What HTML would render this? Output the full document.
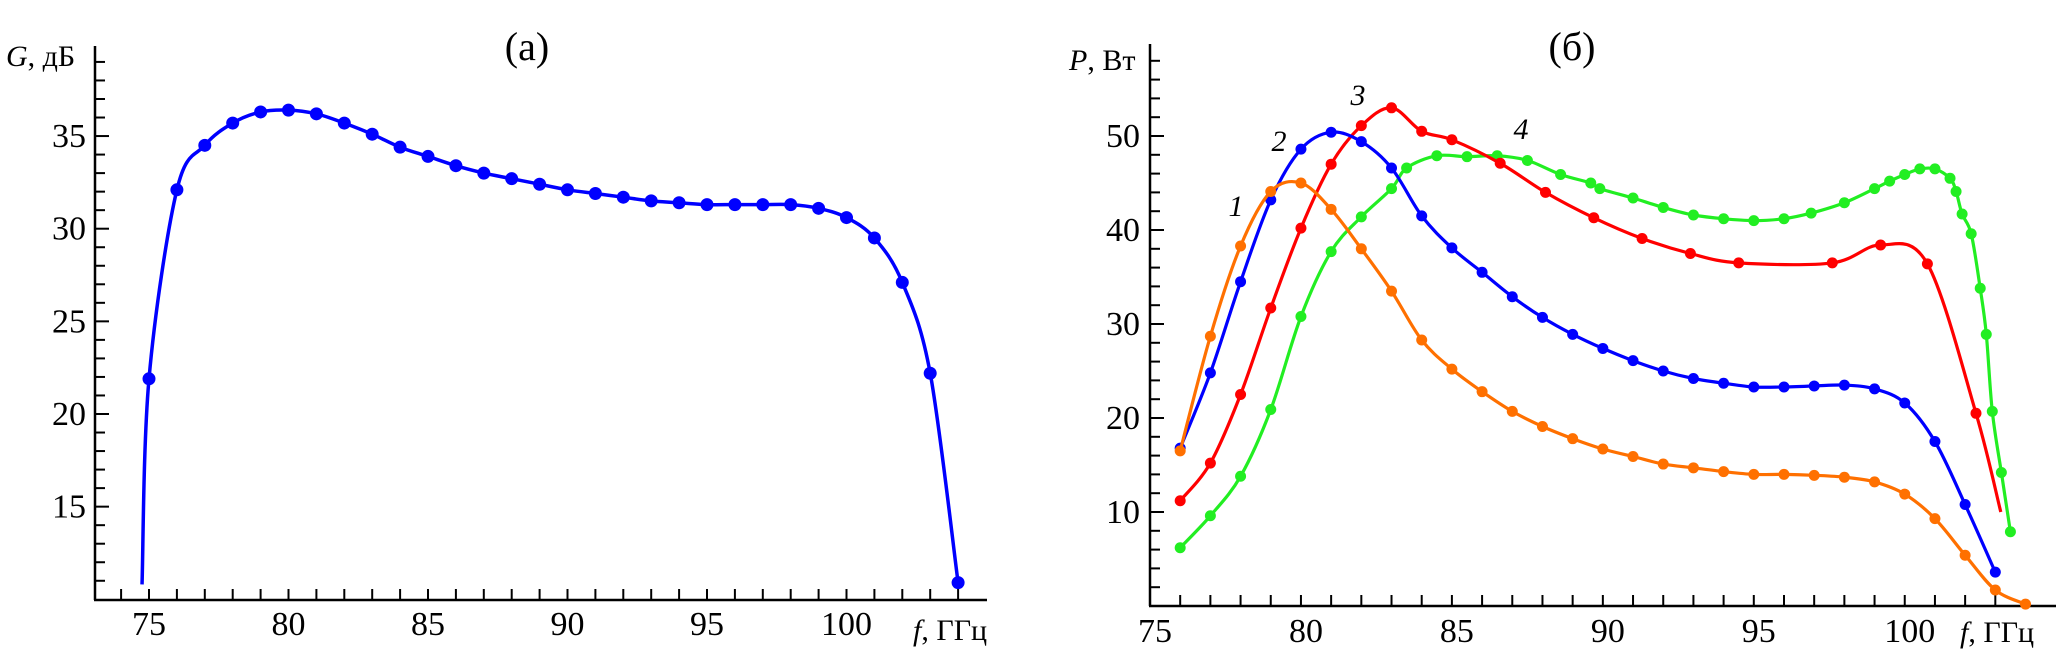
<!DOCTYPE html>
<html><head><meta charset="utf-8"><style>
html,body{margin:0;padding:0;background:#fff;}
svg{display:block;font-family:"Liberation Serif",serif;}
</style></head><body>
<svg id="c" width="2067" height="672" viewBox="0 0 2067 672"></svg>
<script>
// Panel (a) data
const gFreq=[75,76,77,78,79,80,81,82,83,84,85,86,87,88,89,90,91,92,93,94,95,96,97,98,99,100,101,102,103,104];
const gGain=[21.9,32.1,34.5,35.7,36.3,36.4,36.2,35.7,35.1,34.4,33.9,33.4,33.0,32.7,32.4,32.1,31.9,31.7,31.5,31.4,31.3,31.3,31.3,31.3,31.1,30.6,29.5,27.1,22.2,10.9];
const gStart=[74.75,10.8];
const gXTicks=[75,80,85,90,95,100];
const gYTicks=[15,20,25,30,35];
// Panel (b) data
const s1f=[76,77,78,79,80,81,82,83,84,85,86,87,88,89,90,91,92,93,94,95,96,97,98,99,100,101,102,103,104];
const s1p=[16.5,28.7,38.3,44.1,45.0,42.2,38.0,33.5,28.3,25.2,22.8,20.7,19.1,17.8,16.7,15.9,15.1,14.7,14.3,14.0,14.0,13.9,13.7,13.2,11.9,9.3,5.4,1.7,0.2];
const s2f=[76,77,78,79,80,81,82,83,84,85,86,87,88,89,90,91,92,93,94,95,96,97,98,99,100,101,102,103];
const s2p=[16.8,24.8,34.5,43.2,48.6,50.4,49.4,46.6,41.5,38.1,35.5,32.9,30.7,28.9,27.4,26.1,25.0,24.2,23.7,23.3,23.3,23.4,23.5,23.1,21.6,17.5,10.8,3.6];
const s3f=[76,77,78,79,80,81,82,83,84,85,86.6,88.1,89.7,91.3,92.9,94.5,97.6,99.2,100.75,102.36];
const s3p=[11.2,15.2,22.5,31.7,40.2,47.0,51.1,53.0,50.5,49.6,47.1,44.0,41.3,39.1,37.5,36.5,36.5,38.4,36.4,20.5];
const s3end=[103.18,10.0];
const s4f=[76,77,78,79,80,81,82,83,83.5,84.5,85.5,86.5,87.5,88.6,89.6,89.9,91,92,93,94,95,96,96.9,98,99,99.5,100,100.5,101,101.5,101.7,101.9,102.2,102.5,102.7,102.9,103.2,103.5];
const s4p=[6.2,9.6,13.8,20.9,30.8,37.7,41.4,44.4,46.6,47.9,47.8,47.9,47.4,45.9,45.0,44.4,43.4,42.4,41.6,41.2,41.0,41.2,41.8,42.9,44.4,45.2,45.9,46.5,46.5,45.5,44.1,41.7,39.6,33.8,28.9,20.7,14.2,7.9];
const pXTicks=[75,80,85,90,95,100];
const pYTicks=[10,20,30,40,50];

const svg=document.getElementById('c');
const NS='http://www.w3.org/2000/svg';
function mk(tag,attrs,parent){const e=document.createElementNS(NS,tag);for(const k in attrs)e.setAttribute(k,attrs[k]);(parent||svg).appendChild(e);return e;}
function spline(pts){let d='M'+pts[0][0]+','+pts[0][1];
 for(let i=0;i<pts.length-1;i++){const p0=pts[Math.max(0,i-1)],p1=pts[i],p2=pts[i+1],p3=pts[Math.min(pts.length-1,i+2)];
 const c1=[p1[0]+(p2[0]-p0[0])/6,p1[1]+(p2[1]-p0[1])/6],c2=[p2[0]-(p3[0]-p1[0])/6,p2[1]-(p3[1]-p1[1])/6];
 d+=' C'+c1[0].toFixed(1)+','+c1[1].toFixed(1)+' '+c2[0].toFixed(1)+','+c2[1].toFixed(1)+' '+p2[0].toFixed(1)+','+p2[1].toFixed(1);}return d;}

// ---------- Panel a ----------
const ax=f=>149+(f-75)*27.9;
const ay=g=>414-(g-20)*18.53;
const ga=mk('g',{});
let t=mk('text',{x:527,y:60,'font-size':40,'text-anchor':'middle'},ga);t.textContent='(a)';
let yl=mk('text',{x:6,y:66,'font-size':30},ga);yl.innerHTML='<tspan font-style="italic">G</tspan>, дБ';
let xl=mk('text',{x:913,y:640,'font-size':30},ga);xl.innerHTML='<tspan font-style="italic">f</tspan>, ГГц';
mk('line',{x1:95,y1:46,x2:95,y2:600,stroke:'#000','stroke-width':2.5},ga);
mk('line',{x1:94,y1:600,x2:987,y2:600,stroke:'#000','stroke-width':2.5},ga);
for(let v=11;v<=39;v++){const maj=v%5==0;mk('line',{x1:95,y1:ay(v),x2:95+(maj?14:10),y2:ay(v),stroke:'#000','stroke-width':2},ga);}
for(let f=74;f<=104;f++){mk('line',{x1:ax(f),y1:600,x2:ax(f),y2:589,stroke:'#000','stroke-width':2},ga);}
gYTicks.forEach(v=>{const e=mk('text',{x:86,y:ay(v)+11,'font-size':34,'text-anchor':'end'},ga);e.textContent=v;});
gXTicks.forEach(v=>{const e=mk('text',{x:ax(v),y:635,'font-size':34,'text-anchor':'middle'},ga);e.textContent=v;});
const gpts=[[ax(gStart[0]),ay(gStart[1])]].concat(gFreq.map((f,i)=>[ax(f),ay(gGain[i])]));
let gl=mk('path',{d:spline(gpts),fill:'none',stroke:'#0000ff','stroke-width':3.5},ga);
gFreq.forEach((f,i)=>{const c=mk('circle',{cx:ax(f),cy:ay(gGain[i]),r:6.5,fill:'#0000ff'},ga);});

// ---------- Panel b ----------
const bx=f=>1150+(f-75)*30.19;
const by=p=>606-p*9.4;
const gb=mk('g',{});
t=mk('text',{x:1572,y:60,'font-size':40,'text-anchor':'middle'},gb);t.textContent='(б)';
yl=mk('text',{x:1069,y:70,'font-size':30},gb);yl.innerHTML='<tspan font-style="italic">P</tspan>, Вт';
xl=mk('text',{x:1960,y:642,'font-size':30},gb);xl.innerHTML='<tspan font-style="italic">f</tspan>, ГГц';
mk('line',{x1:1150,y1:44,x2:1150,y2:606,stroke:'#000','stroke-width':2.5},gb);
mk('line',{x1:1149,y1:606,x2:2056,y2:606,stroke:'#000','stroke-width':2.5},gb);
for(let v=2;v<=58;v+=2){const maj=v%10==0;mk('line',{x1:1150,y1:by(v),x2:1150+(maj?14:10),y2:by(v),stroke:'#000','stroke-width':2},gb);}
for(let f=76;f<=103;f++){mk('line',{x1:bx(f),y1:606,x2:bx(f),y2:595,stroke:'#000','stroke-width':2},gb);}
pYTicks.forEach(v=>{const e=mk('text',{x:1140,y:by(v)+11,'font-size':34,'text-anchor':'end'},gb);e.textContent=v;});
pXTicks.forEach(v=>{const e=mk('text',{x:bx(v)+5,y:642,'font-size':34,'text-anchor':'middle'},gb);e.textContent=v;});
function series(fs,ps,color,name,extra){
 let pts=fs.map((f,i)=>[bx(f),by(ps[i])]);
 if(extra)pts=pts.concat([[bx(extra[0]),by(extra[1])]]);
 const l=mk('path',{d:spline(pts),fill:'none',stroke:color,'stroke-width':3.2},gb);
 
 
 fs.forEach((f,i)=>{const c=mk('circle',{cx:bx(f),cy:by(ps[i]),r:5.5,fill:color},gb);
  
  });
}
series(s4f,s4p,'#22ee22','series-4');
series(s3f,s3p,'#ff0000','series-3',s3end);
series(s2f,s2p,'#0000ff','series-2');
series(s1f,s1p,'#ff7000','series-1');
[['1',1236,216],['2',1279,151],['3',1358,105],['4',1521,139]].forEach(a=>{const e=mk('text',{x:a[1],y:a[2],'font-size':30,'font-style':'italic','text-anchor':'middle'},gb);e.textContent=a[0];});
</script>
</body></html>
